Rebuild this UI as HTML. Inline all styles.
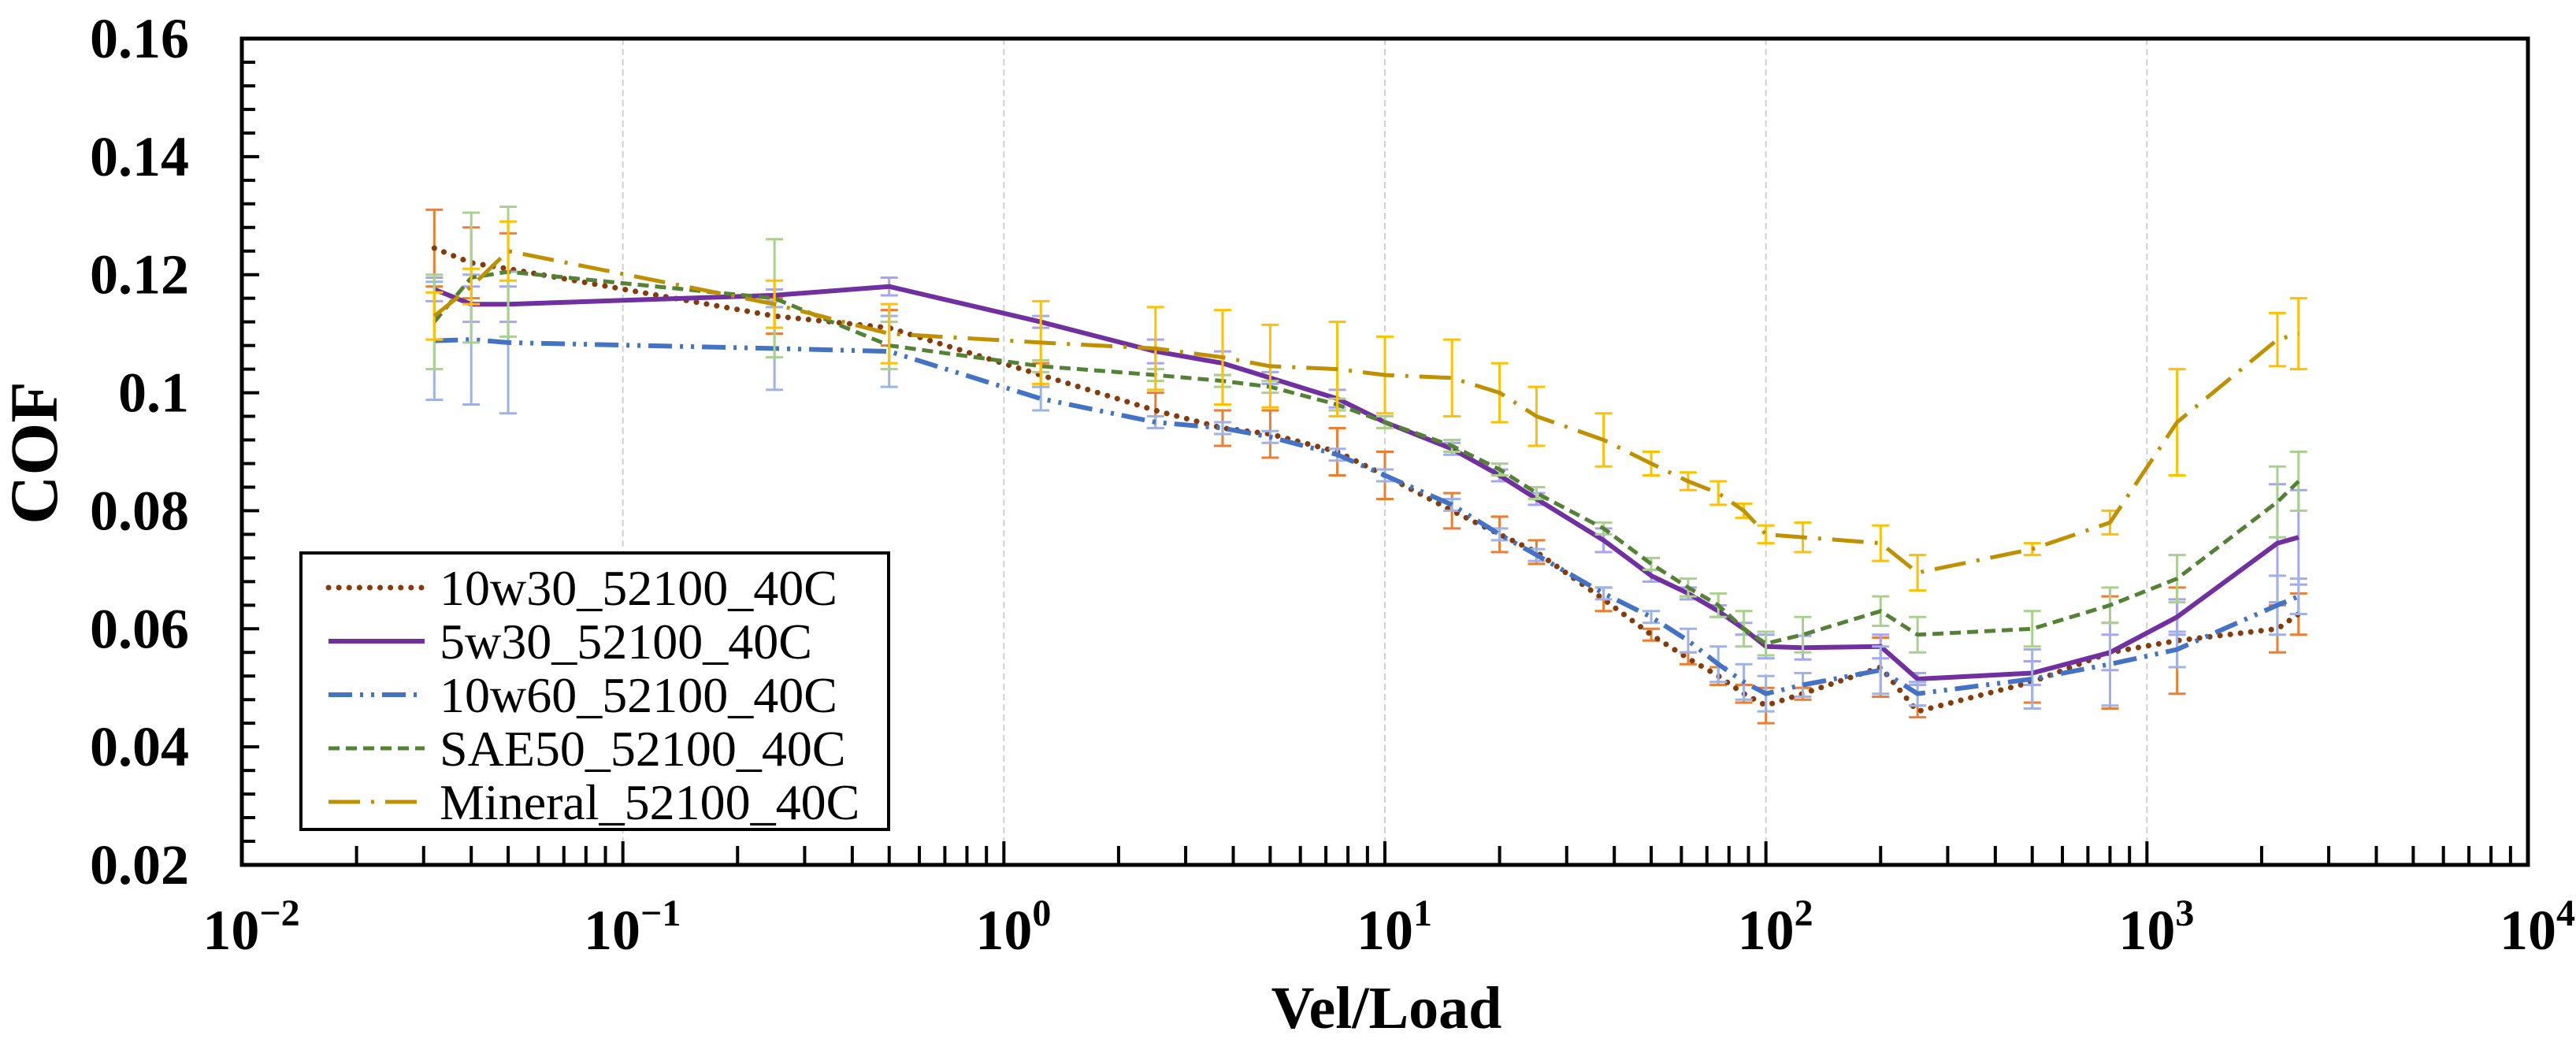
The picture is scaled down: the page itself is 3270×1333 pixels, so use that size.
<!DOCTYPE html>
<html><head><meta charset="utf-8">
<style>
html,body{margin:0;padding:0;background:#fff;}
svg{display:block;}
text{font-family:"Liberation Serif",serif;}
</style></head>
<body>
<svg id="chart" width="3270" height="1333" viewBox="0 0 3270 1333" xmlns="http://www.w3.org/2000/svg">
<g id="grid"></g>
<g id="axes"></g>
<g id="series"></g>
<rect x="307" y="49" width="2902" height="1049" fill="none" stroke="#000" stroke-width="5"/>
<text transform="translate(72,575) rotate(-90)" text-anchor="middle" font-size="86" font-weight="bold">COF</text>
<text x="1760" y="1305" text-anchor="middle" font-size="76" font-weight="bold">Vel/Load</text>
<g id="legend"></g>
</svg>
<script>
const xVals=[0.032,0.04,0.05,0.25,0.5,1.25,2.5,3.75,5,7.5,10,15,20,25,37.5,50,62.5,75,87.5,100,125,200,250,500,800,1200,2200,2500];
const names=["10w30_52100_40C","5w30_52100_40C","10w60_52100_40C","SAE50_52100_40C","Mineral_52100_40C"];
const s10w30=[0.1245,0.122,0.121,0.113,0.111,0.103,0.097,0.094,0.093,0.090,0.086,0.080,0.076,0.073,0.065,0.059,0.055,0.052,0.049,0.047,0.049,0.0535,0.046,0.051,0.056,0.058,0.060,0.0625];
const e10w30=[0.0065,0.006,0.006,0.003,0.003,0.002,0.003,0.003,0.004,0.004,0.004,0.003,0.003,0.002,0.002,0.001,0.001,0.0015,0.0015,0.003,0.001,0.005,0.001,0.0035,0.0095,0.009,0.004,0.0035];
const s5w30=[0.1175,0.115,0.115,0.1165,0.118,0.112,0.107,0.105,0.1025,0.099,0.095,0.0905,0.086,0.082,0.075,0.069,0.066,0.063,0.060,0.057,0.0568,0.057,0.0515,0.0525,0.056,0.062,0.0745,0.0755];
const e5w30=[0.002,0.003,0.003,0.001,0.0015,0.001,0.002,0.002,0.001,0.0015,0.001,0.001,0.001,0.001,0.002,0.001,0.001,0.001,0.001,0.002,0.002,0.002,0.001,0.002,0.003,0.003,0.010,0.008];
const s10w60=[0.1088,0.109,0.1085,0.1075,0.107,0.099,0.095,0.094,0.0925,0.0895,0.086,0.081,0.076,0.0725,0.066,0.062,0.058,0.054,0.051,0.049,0.0505,0.053,0.049,0.0515,0.054,0.0565,0.064,0.0655];
const e10w60=[0.010,0.011,0.012,0.007,0.006,0.002,0.001,0.001,0.001,0.001,0.001,0.001,0.001,0.001,0.001,0.001,0.002,0.003,0.003,0.003,0.002,0.004,0.002,0.005,0.007,0.003,0.005,0.003];
const sSAE50=[0.112,0.1195,0.1205,0.116,0.108,0.1045,0.103,0.102,0.101,0.098,0.095,0.091,0.087,0.083,0.077,0.071,0.067,0.064,0.060,0.0575,0.059,0.063,0.059,0.060,0.064,0.0685,0.0815,0.085];
const eSAE50=[0.008,0.011,0.011,0.010,0.004,0.001,0.001,0.001,0.001,0.001,0.001,0.001,0.001,0.001,0.001,0.001,0.0015,0.002,0.003,0.002,0.003,0.0025,0.003,0.003,0.003,0.004,0.006,0.005];
const sMineral=[0.113,0.118,0.124,0.115,0.110,0.1085,0.1075,0.106,0.1045,0.104,0.103,0.1025,0.100,0.096,0.092,0.088,0.085,0.083,0.080,0.076,0.0755,0.0745,0.0695,0.0735,0.078,0.095,0.109,0.110];
const eMineral=[0.004,0.003,0.005,0.004,0.005,0.007,0.007,0.008,0.007,0.008,0.0065,0.0065,0.005,0.005,0.0045,0.002,0.0015,0.002,0.0012,0.0015,0.0025,0.003,0.003,0.001,0.002,0.009,0.0045,0.006];
const yTicks=[0.02,0.04,0.06,0.08,0.1,0.12,0.14,0.16];
const yTickLabels=["0.02","0.04","0.06","0.08","0.1","0.12","0.14","0.16"];
const xExps=[-2,-1,0,1,2,3,4];
const xExpLabels=["−2","−1","0","1","2","3","4"];

const NS="http://www.w3.org/2000/svg";
const L=307,R=3209,T=49,B=1098;
const X=v=>L+(Math.log10(v)+2)/6*(R-L);
const Y=v=>B-(v-0.02)/0.14*(B-T);
function mk(tag,attrs,parent){const e=document.createElementNS(NS,tag);for(const k in attrs)e.setAttribute(k,attrs[k]);parent.appendChild(e);return e;}
const grid=document.getElementById('grid'),axes=document.getElementById('axes'),ser=document.getElementById('series'),leg=document.getElementById('legend');

xExps.forEach((p,i)=>{
  const x=X(Math.pow(10,p));
  if(p>-2&&p<4){const g=mk('line',{x1:x,x2:x,y1:T,y2:B,stroke:'#d0d0d0','stroke-width':2,'stroke-dasharray':'8 5'},grid);
  
  }
  const t=mk('text',{x:x+12,y:1205,'text-anchor':'middle','font-size':72,'font-weight':'bold'},axes);
  
  
  t.innerHTML='10<tspan dy="-30" font-size="48">'+xExpLabels[i]+'</tspan>';
  if(p<4){for(let m=2;m<=9;m++){const xm=X(m*Math.pow(10,p));mk('line',{x1:xm,x2:xm,y1:B,y2:B-24,stroke:'#000','stroke-width':4},axes);}
  mk('line',{x1:x,x2:x,y1:B,y2:B-30,stroke:'#000','stroke-width':4},axes);}
});
for(let v=0.02;v<=0.1601;v+=0.004){const y=Y(v);mk('line',{x1:L,x2:L+(Math.abs(v*50-Math.round(v*50))<1e-6?22:17),y1:y,y2:y,stroke:'#000','stroke-width':4},axes);}
yTicks.forEach((v,i)=>{const t=mk('text',{x:240,y:Y(v)+24,'text-anchor':'end','font-size':72,'font-weight':'bold'},axes);
  
  
  t.textContent=yTickLabels[i];});

const S=[
 {v:s10w30,e:e10w30,c:'#843C0C',ec:'#ED7D31',w:7,d:'0.1 13',cap:'round'},
 {v:s5w30,e:e5w30,c:'#7030A0',ec:'#A5A5F5',w:6,d:'none',cap:'butt'},
 {v:s10w60,e:e10w60,c:'#4472C4',ec:'#9DB3E6',w:6,d:'30 10 4 10 4 10',cap:'butt'},
 {v:sSAE50,e:eSAE50,c:'#548235',ec:'#A9D18E',w:5,d:'14 8',cap:'butt'},
 {v:sMineral,e:eMineral,c:'#BF9000',ec:'#FFC000',w:5,d:'40 14 4 14',cap:'butt'}
];
S.forEach((s,si)=>{
  const g=mk('g',{},ser);
  
  
  s.v.forEach((v,i)=>{const x=X(xVals[i]),y1=Y(v+s.e[i]),y2=Y(v-s.e[i]);
    const eb=mk('path',{d:`M${x},${y1}V${y2}M${x-11},${y1}H${x+11}M${x-11},${y2}H${x+11}`,stroke:s.ec,'stroke-width':3,fill:'none'},g);
    
    });
  const d=s.v.map((v,i)=>(i?'L':'M')+X(xVals[i]).toFixed(1)+','+Y(v).toFixed(1)).join('');
  const p=mk('path',{d:d,fill:'none',stroke:s.c,'stroke-width':s.w,'stroke-dasharray':s.d,'stroke-linecap':s.cap,'stroke-linejoin':'round'},g);
  
  
});

const lb=mk('rect',{x:382,y:702,width:746,height:351,fill:'#fff',stroke:'#000','stroke-width':4},leg);


S.forEach((s,i)=>{const y=746+i*68;
  const ent=mk('g',{},leg);
  
  
  mk('line',{x1:417,x2:539,y1:y,y2:y,stroke:s.c,'stroke-width':s.w,'stroke-dasharray':s.d,'stroke-linecap':s.cap},ent);
  const t=mk('text',{x:558,y:y+22,'font-size':64},ent);
  t.textContent=names[i];});
</script>
</body></html>
